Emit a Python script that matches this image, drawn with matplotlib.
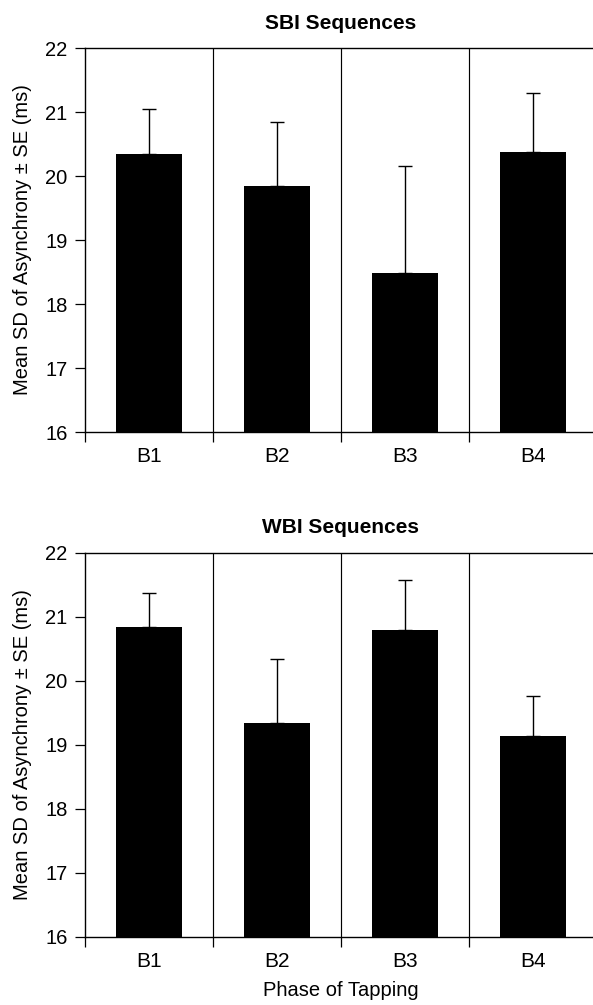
import numpy as np
import matplotlib
matplotlib.use("Agg")
import matplotlib.pyplot as plt

# phases of tapping
phases = ["B1", "B2", "B3", "B4"]

# SBI sequences: mean SD of asynchrony and SE (ms)
sbi_means = [20.35, 19.85, 18.49, 20.37]
sbi_se = [0.70, 1.00, 1.67, 0.92]

# WBI sequences
wbi_means = [20.84, 19.33, 20.79, 19.13]
wbi_se = [0.53, 1.00, 0.78, 0.63]

y_ticks = [16, 17, 18, 19, 20, 21, 22]

plt.rcParams['font.family'] = ['Liberation Sans', 'DejaVu Sans']

W, H = 593, 1005
fig = plt.figure(figsize=(W / 100, H / 100), dpi=100)


def draw_panel(ax, means, errs, title, xlabel=None):
    x = np.arange(len(phases)) + 0.5
    ax.bar(x, means, width=0.51, bottom=0, color='black', zorder=3)
    ax.errorbar(x, means, yerr=[np.zeros(len(errs)), errs], fmt='none',
                ecolor='black', elinewidth=1.0, capsize=4.8, capthick=1.0,
                zorder=2)
    # separators between phases
    for b in range(1, len(phases)):
        ax.axvline(b, color='black', lw=0.85, zorder=1)

    ax.set_xlim(0, len(phases))
    ax.set_ylim(16, 22)
    ax.set_yticks(y_ticks)
    ax.set_xticks(x)
    ax.set_xticklabels(phases)
    ax.set_xticks(np.arange(len(phases) + 1), minor=True)
    ax.tick_params(axis='x', which='major', length=0, pad=11, labelsize=15)
    ax.tick_params(axis='x', which='minor', length=7.5, width=0.9,
                   direction='out')
    ax.tick_params(axis='y', length=7.5, width=0.9, pad=5, labelsize=14.5)

    for side in ['left', 'top', 'bottom']:
        ax.spines[side].set_linewidth(1.0)
    ax.spines['right'].set_visible(False)

    ax.set_title(title, fontsize=15, fontweight='bold', pad=14)
    ax.set_ylabel('Mean SD of Asynchrony \u00b1 SE (ms)', fontsize=14.5)
    ax.yaxis.set_label_coords(-0.104, 0.5)
    if xlabel:
        ax.set_xlabel(xlabel, fontsize=14.5, labelpad=7)


left = 85 / W
width = 512 / W
height = 384 / H

ax1 = fig.add_axes([left, (H - 432) / H, width, height])
draw_panel(ax1, sbi_means, sbi_se, 'SBI Sequences')

ax2 = fig.add_axes([left, (H - 936.5) / H, width, height])
draw_panel(ax2, wbi_means, wbi_se, 'WBI Sequences', xlabel='Phase of Tapping')

fig.savefig('out.png', dpi=100)
